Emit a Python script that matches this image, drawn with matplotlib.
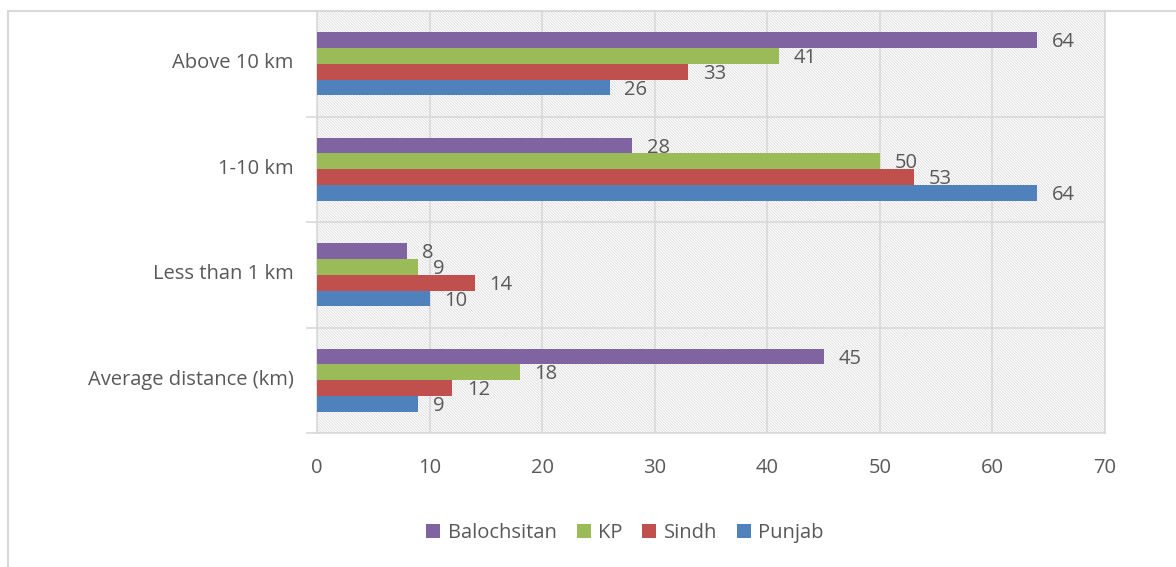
import matplotlib.pyplot as plt
import matplotlib.patches as patches
import numpy as np

plt.rcParams['font.family'] = ['Open Sans', 'DejaVu Sans']
plt.rcParams['hatch.linewidth'] = 0.6

categories = ['Average distance (km)', 'Less than 1 km', '1-10 km', 'Above 10 km']
punjab = [9, 10, 64, 26]
sindh = [12, 14, 53, 33]
kp = [18, 9, 50, 41]
balochsitan = [45, 8, 28, 64]
x_ticks = [0, 10, 20, 30, 40, 50, 60, 70]

series = [('Punjab', punjab, '#4f81bd'),
          ('Sindh', sindh, '#c0504d'),
          ('KP', kp, '#9bbb59'),
          ('Balochsitan', balochsitan, '#8064a2')]

text_color = '#595959'
grid_color = '#d9d9d9'
fs = 14.5

fig = plt.figure(figsize=(11.76, 5.67), dpi=100)
ax = fig.add_axes([317 / 1176, 1 - 433 / 567, (1105 - 317) / 1176, (433 - 11) / 567])

# hatched plot background
ax.add_patch(patches.Rectangle((0, 0), 1, 1, transform=ax.transAxes, facecolor='white',
                               edgecolor='#dcdcdc', hatch='\\' * 12, linewidth=0, zorder=0))

y = np.arange(len(categories))
h = 0.15
handles = {}
for i, (name, vals, col) in enumerate(series):
    pos = y + (i - 1.5) * h
    bars = ax.barh(pos, vals, height=h, color=col, zorder=3)
    handles[name] = bars
    for p, v in zip(pos, vals):
        ax.text(v + 1.3, p - 0.02, str(v), va='center', ha='left', fontsize=fs,
                color=text_color, zorder=4)

ax.set_xlim(0, 70)
ax.set_ylim(-0.5, 3.5)
ax.set_xticks(x_ticks)
ax.set_xticklabels([str(t) for t in x_ticks], fontsize=fs, color=text_color)
ax.set_yticks(y + 0.03)
ax.set_yticklabels(categories, fontsize=fs, color=text_color)
ax.set_yticks(np.arange(-0.5, 3.6, 1), minor=True)
ax.tick_params(axis='y', which='major', length=0, pad=17)
ax.tick_params(axis='y', which='minor', length=8, color=grid_color, width=1.2)
ax.tick_params(axis='x', length=0, pad=18)

ax.grid(axis='x', color=grid_color, linewidth=1.2, zorder=1)
ax.grid(axis='y', which='minor', color=grid_color, linewidth=1.2, zorder=1)
ax.set_axisbelow(True)
for s in ax.spines.values():
    s.set_color(grid_color)
    s.set_linewidth(1.2)

order = ['Balochsitan', 'KP', 'Sindh', 'Punjab']
leg = fig.legend([handles[n] for n in order], order, loc='center', bbox_to_anchor=(625 / 1176, 1 - 533 / 567),
                 ncol=4, frameon=False, fontsize=fs, handlelength=0.7, handleheight=0.7,
                 columnspacing=1.0, handletextpad=0.35)
for t in leg.get_texts():
    t.set_color(text_color)

# outer chart border
fig.add_artist(patches.Rectangle((8 / 1176, -0.1), 1.2, 1.1 - 10.5 / 567, transform=fig.transFigure,
                                 fill=False, edgecolor=grid_color, linewidth=1.5))

fig.savefig('out.png', dpi=100)
